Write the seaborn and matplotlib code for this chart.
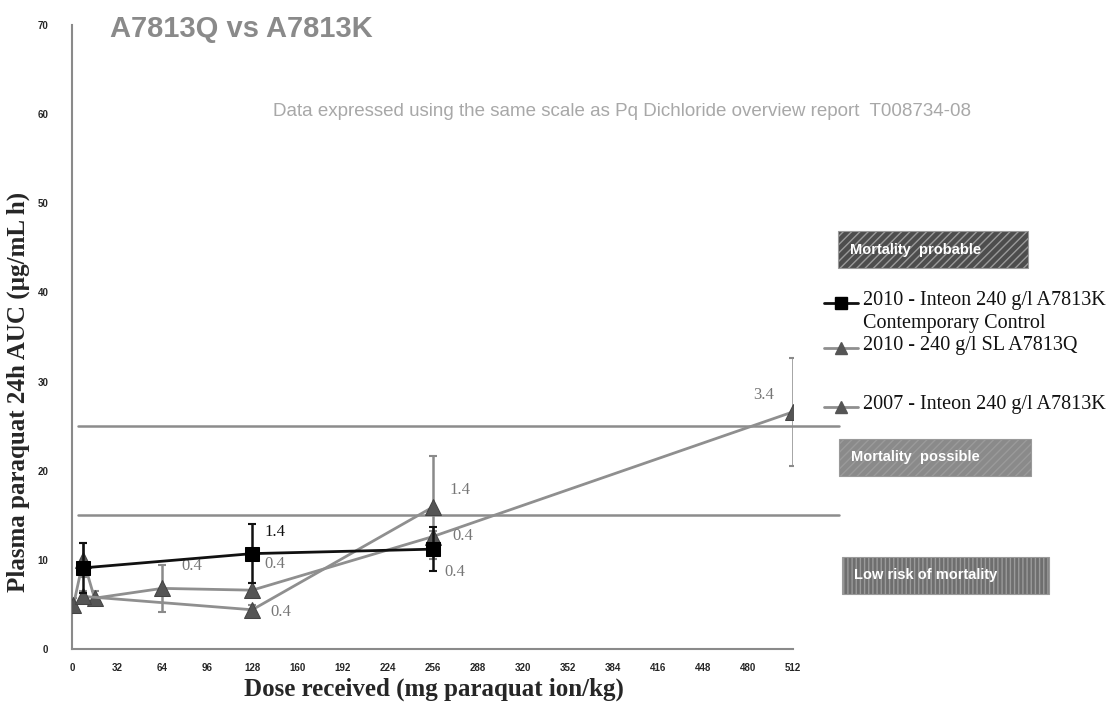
import numpy as np
import pandas as pd
import matplotlib
matplotlib.use("Agg")
import matplotlib.pyplot as plt
import seaborn as sns
from matplotlib.lines import Line2D
from matplotlib.patches import Rectangle

# ---------------- data ----------------
ctrl_dose = [8, 128, 256]
ctrl_auc = [9.1, 10.7, 11.2]
ctrl_err = [2.8, 3.3, 2.5]

q2010_dose = [8, 128, 256]
q2010_auc = [5.9, 4.4, 15.9]
q2010_err = [0.6, 0.5, 5.8]

k2007_dose = [1, 8, 16, 64, 128, 256, 512]
k2007_auc = [4.9, 10.0, 5.7, 6.8, 6.6, 12.6, 26.6]
k2007_err = [0.8, 1.9, 0.8, 2.6, 0.8, 0.6, 6.1]

series_names = ["2010 - Inteon 240 g/l A7813K\nContemporary Control",
                "2010 - 240 g/l SL A7813Q",
                "2007 - Inteon 240 g/l A7813K"]

ref_levels = [15, 25]
x_ticks = list(range(0, 513, 32))
y_ticks = list(range(0, 71, 10))

point_labels = ["1.4", "0.4", "0.4", "0.4", "1.4", "0.4", "0.4", "3.4"]
label_x = [144, 144, 85, 148, 275.6, 277.7, 272, 490.8]
label_y = [13.1, 9.5, 9.3, 4.2, 17.8, 12.7, 8.6, 28.5]
label_dark = [True, False, False, False, False, False, False, False]

zone_texts = ["Mortality  probable", "Mortality  possible", "Low risk of mortality"]

# ---------------- figure ----------------
sns.set_style("white")
plt.rcParams["font.family"] = ["Liberation Serif", "DejaVu Serif"]

W, H = 1120, 715
fig = plt.figure(figsize=(W / 100, H / 100), dpi=100)

def fx(px):
    return px / W

def fy(py):
    return 1 - py / H

ax = fig.add_axes([fx(72), fy(649), fx(793) - fx(72), fy(25) - fy(649)])

df = pd.concat([
    pd.DataFrame({"dose": ctrl_dose, "auc": ctrl_auc, "series": series_names[0]}),
    pd.DataFrame({"dose": q2010_dose, "auc": q2010_auc, "series": series_names[1]}),
    pd.DataFrame({"dose": k2007_dose, "auc": k2007_auc, "series": series_names[2]}),
], ignore_index=True)

line_colors = {series_names[0]: "#111111", series_names[1]: "#8f8f8f", series_names[2]: "#8f8f8f"}
markers = {series_names[0]: "s", series_names[1]: "^", series_names[2]: "^"}

# error bars
ax.errorbar(k2007_dose, k2007_auc, yerr=k2007_err, fmt="none", ecolor="#8a8a8a",
            elinewidth=1.8, capsize=3, capthick=1.5, zorder=2)
ax.errorbar(q2010_dose, q2010_auc, yerr=q2010_err, fmt="none", ecolor="#8a8a8a",
            elinewidth=1.8, capsize=3, capthick=1.5, zorder=2)
ax.errorbar(ctrl_dose, ctrl_auc, yerr=ctrl_err, fmt="none", ecolor="#111111",
            elinewidth=1.8, capsize=3, capthick=1.5, zorder=4)

for name in [series_names[2], series_names[1], series_names[0]]:
    sub = df[df["series"] == name]
    is_ctrl = name == series_names[0]
    sns.lineplot(data=sub, x="dose", y="auc", ax=ax, sort=False, estimator=None,
                 color=line_colors[name], linewidth=2.0,
                 marker=markers[name], markersize=10 if is_ctrl else 11,
                 markerfacecolor="#000000" if is_ctrl else "#555555",
                 markeredgecolor="#000000" if is_ctrl else "#444444",
                 zorder=5 if is_ctrl else 3, legend=False)

# reference lines
for lv in ref_levels:
    ax.plot([4.3, 545], [lv, lv], color="#8c8c8c", linewidth=1.8, clip_on=False, zorder=1)

# point labels
for t, x, y, dark in zip(point_labels, label_x, label_y, label_dark):
    ax.text(x, y, t, ha="center", va="center", fontsize=12,
            color="#111111" if dark else "#777777")

ax.set_xlim(0, 512)
ax.set_ylim(0, 70)
ax.set_xticks(x_ticks)
ax.set_yticks(y_ticks)
ax.set_xticklabels([str(v) for v in x_ticks], fontsize=7, fontweight="bold",
                   family=["Liberation Sans", "DejaVu Sans"])
ax.set_yticklabels([str(v) for v in y_ticks], fontsize=7, fontweight="bold",
                   family=["Liberation Sans", "DejaVu Sans"])
ax.tick_params(axis="both", length=3, width=0.8, color="#888888", direction="out")
ax.tick_params(axis="y", pad=14)
ax.tick_params(axis="x", pad=7)
for s in ["top", "right"]:
    ax.spines[s].set_visible(False)
for s in ["left", "bottom"]:
    ax.spines[s].set_color("#8a8a8a")
    ax.spines[s].set_linewidth(1.5)

ax.set_xlabel("Dose received (mg paraquat ion/kg)", fontsize=18, fontweight="bold")
ax.xaxis.set_label_coords((434 - 72) / 721, -(678 - 649) / 624)
ax.set_ylabel("Plasma paraquat 24h AUC (µg/mL h)", fontsize=18, fontweight="bold")
ax.yaxis.set_label_coords((30 - 72) / 721, (649 - 392) / 624)

# title and subtitle
fig.text(fx(110), fy(29), "A7813Q vs A7813K", fontsize=21, fontweight="bold",
         color="#8a8a8a", family=["Liberation Sans", "DejaVu Sans"], va="center", ha="left")
fig.text(fx(273), fy(112), "Data expressed using the same scale as Pq Dichloride overview report  T008734-08",
         fontsize=13.5, color="#a8a8a8", family=["Liberation Sans", "DejaVu Sans"],
         va="center", ha="left")

# manual legend
leg_rows = [(303, series_names[0], "s", "#000000", "#111111"),
            (348, series_names[1], "^", "#555555", "#8f8f8f"),
            (407, series_names[2], "^", "#555555", "#8f8f8f")]
for py, name, mk, mfc, lc in leg_rows:
    fig.add_artist(Line2D([fx(824), fx(841), fx(858)], [fy(py)] * 3, transform=fig.transFigure,
                          color=lc, linewidth=2, marker=mk, markevery=[1],
                          markersize=9, markerfacecolor=mfc, markeredgecolor=mfc))
    fig.text(fx(863), fy(py - 12), name, fontsize=14.5, va="top", ha="left",
             color="#111111", linespacing=1.3)

# zone boxes
zones = [(838, 231, 1028, 268, "#4d4d4d", "////"),
         (839, 439, 1031, 476, "#8a8a8a", "////"),
         (842, 557, 1049, 594, "#6e6e6e", "||||")]
for (x0, y0, x1, y1, col, hatch), txt in zip(zones, zone_texts):
    rect = Rectangle((fx(x0), fy(y1)), fx(x1) - fx(x0), fy(y0) - fy(y1),
                     transform=fig.transFigure, facecolor=col, edgecolor="#9a9a9a",
                     hatch=hatch, linewidth=0.8)
    fig.add_artist(rect)
    fig.text(fx(x0 + 12), fy((y0 + y1) / 2), txt, fontsize=10.5, fontweight="bold",
             color="white", va="center", ha="left", family=["Liberation Sans", "DejaVu Sans"])

fig.savefig("out.png", dpi=100)
